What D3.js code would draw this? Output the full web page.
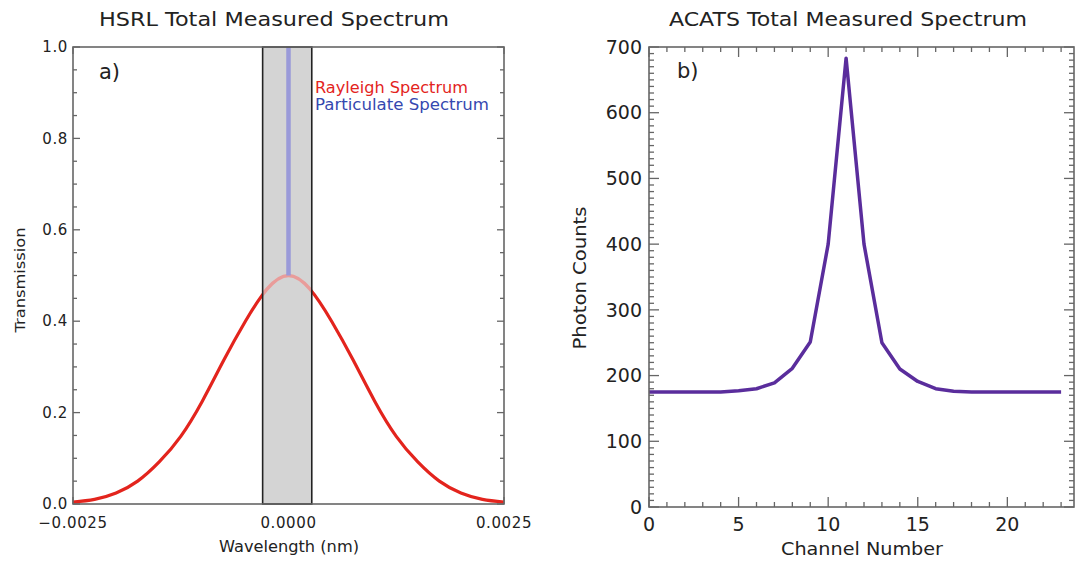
<!DOCTYPE html>
<html><head><meta charset="utf-8">
<script src="https://cdn.jsdelivr.net/npm/d3@7/dist/d3.min.js"></script>
<style>
html,body{margin:0;padding:0;background:#fff;}
svg{display:block;}
text{font-family:"DejaVu Sans",sans-serif;fill:#222;}
</style></head>
<body>
<svg id="chart" width="1081" height="563"></svg>
<script>
// ---------- DATA ----------
// Panel a) HSRL
const wavelength = [-0.0025,-0.00225,-0.002,-0.00175,-0.0015,-0.00125,-0.001,-0.00075,-0.0005,-0.00025,0,
                    0.00025,0.0005,0.00075,0.001,0.00125,0.0015,0.00175,0.002,0.00225,0.0025];
const rayleigh   = [0.004,0.010,0.024,0.050,0.092,0.148,0.225,0.315,0.400,0.470,0.500,
                    0.470,0.400,0.315,0.225,0.148,0.092,0.050,0.024,0.010,0.004];
const particulateX = [0,0];
const particulateY = [0.5,1.0];
const filterBand = [-0.0003,0.00027];
const aTicksY = [0,0.2,0.4,0.6,0.8,1.0];
const aTicksX = [-0.0025,0,0.0025];
const aTickLabelsX = ["\u22120.0025","0.0000","0.0025"];
// Panel b) ACATS
const channels = [0,1,2,3,4,5,6,7,8,9,10,11,12,13,14,15,16,17,18,19,20,21,22,23];
const counts   = [175,175,175,175,175,177,180,189,211,251,400,683,400,250,210,191,180,176,175,175,175,175,175,175];
const bTicksX = [0,5,10,15,20];
const bTicksY = [0,100,200,300,400,500,600,700];

// ---------- LAYOUT ----------
const svg = d3.select("#chart");
const axisCol = "#666";

const xA = d3.scaleLinear().domain([-0.0025,0.0025]).range([73,504]);
const yA = d3.scaleLinear().domain([0,1]).range([504,47]);
const xB = d3.scaleLinear().domain([0,23.72]).range([649,1074]);
const yB = d3.scaleLinear().domain([0,700]).range([507,47]);

function ticks(g, x, y, xMajor, xMinor, yMajor, yMinor, majLen, minLen) {
  const [x0,x1] = x.range(), [y0,y1] = y.range();
  const t = g.append("g").attr("stroke",axisCol).attr("stroke-width",1.3);
  xMinor.forEach(v=>{
    t.append("line").attr("x1",x(v)).attr("x2",x(v)).attr("y1",y0).attr("y2",y0-minLen);
    t.append("line").attr("x1",x(v)).attr("x2",x(v)).attr("y1",y1).attr("y2",y1+minLen);
  });
  xMajor.forEach(v=>{
    t.append("line").attr("x1",x(v)).attr("x2",x(v)).attr("y1",y0).attr("y2",y0-majLen);
    t.append("line").attr("x1",x(v)).attr("x2",x(v)).attr("y1",y1).attr("y2",y1+majLen);
  });
  yMinor.forEach(v=>{
    t.append("line").attr("y1",y(v)).attr("y2",y(v)).attr("x1",x0).attr("x2",x0+minLen);
    t.append("line").attr("y1",y(v)).attr("y2",y(v)).attr("x1",x1).attr("x2",x1-minLen);
  });
  yMajor.forEach(v=>{
    t.append("line").attr("y1",y(v)).attr("y2",y(v)).attr("x1",x0).attr("x2",x0+majLen);
    t.append("line").attr("y1",y(v)).attr("y2",y(v)).attr("x1",x1).attr("x2",x1-majLen);
  });
}
function frame(g, x, y) {
  const [x0,x1] = x.range(), [y0,y1] = y.range();
  g.append("rect").attr("x",x0).attr("y",y1).attr("width",x1-x0).attr("height",y0-y1)
   .attr("fill","none").attr("stroke",axisCol).attr("stroke-width",1.6);
}

// ---------- PANEL A ----------
const gA = svg.append("g");
const yMinorA = d3.range(0,1.0001,0.05).filter(v=>Math.abs(Math.round(v*5)-v*5)>1e-6);
ticks(gA, xA, yA, aTicksX, [], aTicksY, yMinorA, 7, 4);

const bx0 = xA(filterBand[0]), bx1 = xA(filterBand[1]);
const defs = svg.append("defs");
defs.append("clipPath").attr("id","inBand").append("rect")
  .attr("x",bx0).attr("y",0).attr("width",bx1-bx0).attr("height",563);
const outClip = defs.append("clipPath").attr("id","outBand");
outClip.append("rect").attr("x",0).attr("y",0).attr("width",bx0).attr("height",563);
outClip.append("rect").attr("x",bx1).attr("y",0).attr("width",1081-bx1).attr("height",563);

// filter band fill
gA.append("rect").attr("x",bx0).attr("y",yA(1)).attr("width",bx1-bx0)
  .attr("height",yA(0)-yA(1)).attr("fill","#d4d4d4");

const lineA = d3.line().x((d,i)=>xA(wavelength[i])).y(d=>yA(d)).curve(d3.curveNatural);
gA.append("path").datum(rayleigh).attr("d",lineA).attr("fill","none").attr("clip-path","url(#outBand)")
  .attr("stroke","#e3241d").attr("stroke-width",3.2);
gA.append("path").datum(rayleigh).attr("d",lineA).attr("fill","none").attr("clip-path","url(#inBand)")
  .attr("stroke","#e99c9a").attr("stroke-width",3.4);

gA.append("line").attr("x1",xA(particulateX[0])).attr("x2",xA(particulateX[1]))
  .attr("y1",yA(particulateY[0])).attr("y2",yA(particulateY[1]))
  .attr("stroke","#9a9ad9").attr("stroke-width",4.5);
gA.append("rect").attr("x",bx0).attr("y",yA(1)).attr("width",bx1-bx0)
  .attr("height",yA(0)-yA(1)).attr("fill","none").attr("stroke","#222").attr("stroke-width",1.6);
frame(gA, xA, yA);

// labels A
gA.selectAll(".yl").data(aTicksY).enter().append("text")
  .attr("x",68).attr("y",d=>yA(d)).attr("dy","0.35em").attr("text-anchor","end")
  .attr("font-size",15).attr("letter-spacing",0.6).text(d=>d.toFixed(1));
gA.selectAll(".xl").data(aTicksX).enter().append("text")
  .attr("x",d=>xA(d)).attr("y",528).attr("text-anchor","middle")
  .attr("font-size",15).attr("letter-spacing",0.6).text((d,i)=>aTickLabelsX[i]);
gA.append("text").attr("x",274).attr("y",26).attr("text-anchor","middle").attr("font-size",20)
  .attr("textLength",350).attr("lengthAdjust","spacingAndGlyphs").text("HSRL Total Measured Spectrum");
gA.append("text").attr("x",289).attr("y",552).attr("text-anchor","middle").attr("font-size",15)
  .attr("textLength",140).attr("lengthAdjust","spacingAndGlyphs").text("Wavelength (nm)");
gA.append("text").attr("transform","translate(25,280) rotate(-90)").attr("text-anchor","middle").attr("font-size",14)
  .attr("textLength",105).attr("lengthAdjust","spacingAndGlyphs").text("Transmission");
gA.append("text").attr("x",99).attr("y",79).attr("font-size",21).text("a)");
gA.append("text").attr("x",315).attr("y",93).attr("font-size",15).style("fill","#e3241d")
  .attr("textLength",153).attr("lengthAdjust","spacingAndGlyphs").text("Rayleigh Spectrum");
gA.append("text").attr("x",315).attr("y",110).attr("font-size",15).style("fill","#3548b0")
  .attr("textLength",174).attr("lengthAdjust","spacingAndGlyphs").text("Particulate Spectrum");

// ---------- PANEL B ----------
const gB = svg.append("g");
const xMinorB = d3.range(0,24).filter(v=>v%5!==0);
const yMinorB = d3.range(0,701,10).filter(v=>v%100!==0);
ticks(gB, xB, yB, bTicksX, xMinorB, bTicksY, yMinorB, 10, 5);

const lineB = d3.line().x((d,i)=>xB(channels[i])).y(d=>yB(d));
gB.append("path").datum(counts).attr("d",lineB).attr("fill","none")
  .attr("stroke","#5a2d9c").attr("stroke-width",3.5).attr("stroke-linejoin","round");
frame(gB, xB, yB);

gB.selectAll(".yl").data(bTicksY).enter().append("text")
  .attr("x",642).attr("y",d=>yB(d)).attr("dy","0.35em").attr("text-anchor","end")
  .attr("font-size",19).text(d=>d);
gB.selectAll(".xl").data(bTicksX).enter().append("text")
  .attr("x",d=>xB(d)).attr("y",531).attr("text-anchor","middle")
  .attr("font-size",19).text(d=>d);
gB.append("text").attr("x",848).attr("y",26).attr("text-anchor","middle").attr("font-size",20)
  .attr("textLength",358).attr("lengthAdjust","spacingAndGlyphs").text("ACATS Total Measured Spectrum");
gB.append("text").attr("x",862).attr("y",555).attr("text-anchor","middle").attr("font-size",18)
  .attr("textLength",162).attr("lengthAdjust","spacingAndGlyphs").text("Channel Number");
gB.append("text").attr("transform","translate(586,278) rotate(-90)").attr("text-anchor","middle").attr("font-size",17)
  .attr("textLength",143).attr("lengthAdjust","spacingAndGlyphs").text("Photon Counts");
gB.append("text").attr("x",677).attr("y",78).attr("font-size",21).text("b)");
</script>
</body></html>
